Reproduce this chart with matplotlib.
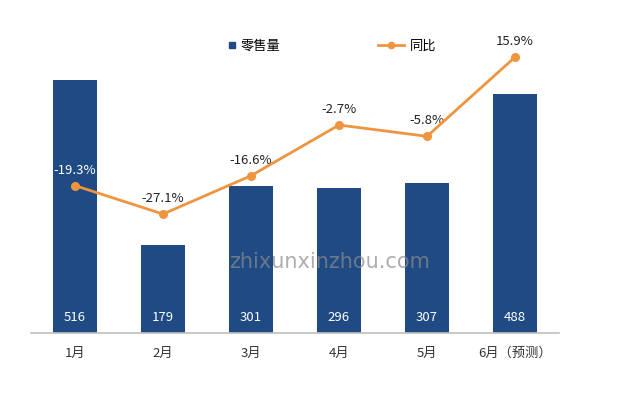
import matplotlib
matplotlib.use("Agg")
import matplotlib.pyplot as plt
from matplotlib.lines import Line2D

plt.rcParams['font.family'] = ['Noto Sans CJK SC', 'DejaVu Sans']

categories = ['1月', '2月', '3月', '4月', '5月', '6月（预测）']
sales = [516, 179, 301, 296, 307, 488]
yoy = [-19.3, -27.1, -16.6, -2.7, -5.8, 15.9]
yoy_labels = ['-19.3%', '-27.1%', '-16.6%', '-2.7%', '-5.8%', '15.9%']

bar_color = '#1F4A84'
line_color = '#F0953F'

fig = plt.figure(figsize=(6.4, 3.95), dpi=100)
ax = fig.add_axes([31/640, 62/395, 528/640, 293/395])
x = list(range(len(categories)))
ax.bar(x, sales, width=0.5, color=bar_color, zorder=2)
ax.set_xlim(-0.5, 5.5)
ax.set_ylim(0, 598)
for s in ['top', 'right', 'left']:
    ax.spines[s].set_visible(False)
ax.spines['bottom'].set_color('#BFBFBF')
ax.spines['bottom'].set_linewidth(1.2)
ax.set_yticks([])
ax.set_xticks(x)
ax.set_xticklabels(categories, fontsize=9.5, color='#333333')
ax.tick_params(axis='x', length=0, pad=10)
for xi, v in zip(x, sales):
    ax.annotate(str(v), (xi, 0), xytext=(0, 11), textcoords='offset points',
                ha='center', va='center', color='white', fontsize=9.5, zorder=5)

ax2 = ax.twinx()
ax2.set_ylim(-59.7, 20.6)
ax2.plot(x, yoy, color=line_color, lw=2, marker='o', markersize=5.5, zorder=4)
ax2.axis('off')
for xi, v, lab in zip(x, yoy, yoy_labels):
    col = 'white' if xi == 0 else '#222222'
    ax2.annotate(lab, (xi, v), xytext=(0, 6.5), textcoords='offset points',
                 ha='center', va='bottom', fontsize=9.5, color=col)

fig.text(330/640, 1 - 262/395, 'zhixunxinzhou.com', ha='center', va='center',
         fontsize=15, color='#8C8C8C', alpha=0.7, family='DejaVu Sans')

h1 = Line2D([0], [0], color=bar_color, lw=0, marker='s', markersize=4.5)
h2 = Line2D([0], [0], color=line_color, lw=2, marker='o', markersize=4.5)
leg1 = fig.legend([h1], ['零售量'], loc='center left', bbox_to_anchor=(228/640, 1 - 46/395),
                  frameon=False, fontsize=9.5, handlelength=0.6, handletextpad=0.35,
                  borderpad=0, borderaxespad=0)
leg2 = fig.legend([h2], ['同比'], loc='center left', bbox_to_anchor=(378/640, 1 - 46/395),
                  frameon=False, fontsize=9.5, handlelength=2.0, handletextpad=0.4,
                  borderpad=0, borderaxespad=0)

fig.savefig('out.png', dpi=100)
